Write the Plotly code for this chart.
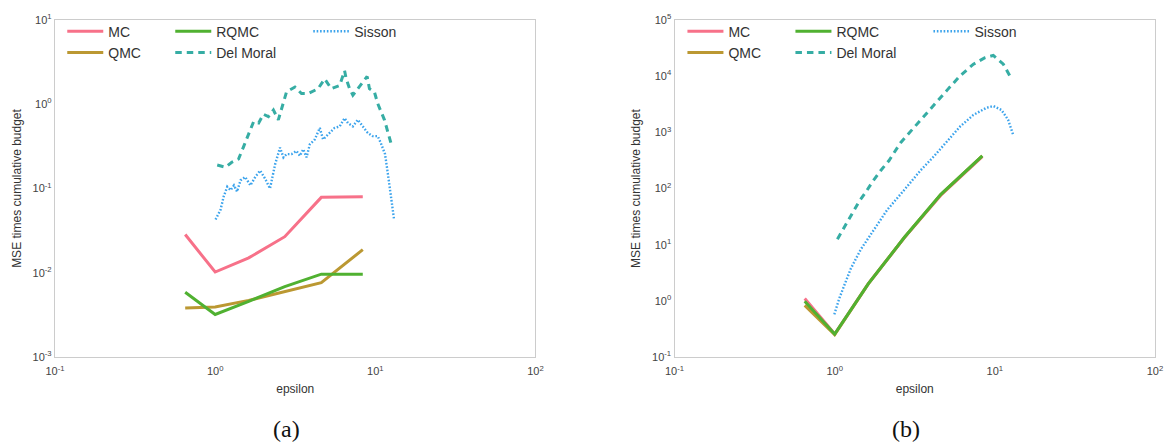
import plotly.graph_objects as go

# ---------------- data ----------------
# epsilon grid shared by the MC / QMC / RQMC estimators
EPS = [0.65, 1.0, 1.62, 2.72, 4.6, 8.35]

# panel (a)
A_MC = [0.0284, 0.0102, 0.0150, 0.0268, 0.0785, 0.0796]
A_QMC = [0.00382, 0.00393, 0.0047, 0.00598, 0.00762, 0.0188]
A_RQMC = [0.00587, 0.0032, 0.00457, 0.00684, 0.00962, 0.00962]

A_DM_EPS = [1.03, 1.16, 1.27, 1.40, 1.51, 1.62, 1.74, 1.87, 2.00, 2.15, 2.31, 2.48,
            2.79, 3.15, 3.46, 3.81, 4.39, 4.83, 5.31, 5.99, 6.43, 6.58, 6.91, 7.24,
            8.15, 8.89, 9.19, 9.87, 10.35, 11.4, 12.5]
A_DM = [0.190, 0.179, 0.205, 0.224, 0.319, 0.437, 0.625, 0.598, 0.762, 0.714, 0.855, 0.653,
        1.40, 1.60, 1.34, 1.34, 1.53, 2.00, 1.53, 1.67, 2.50, 2.00, 1.53, 1.28,
        1.75, 2.14, 1.53, 1.40, 1.02, 0.653, 0.350]

A_SIS_EPS = [1.006, 1.08, 1.13, 1.19, 1.25, 1.31, 1.37, 1.44, 1.54, 1.66, 1.78, 1.91,
             2.05, 2.20, 2.37, 2.54, 2.67, 2.79, 3.00, 3.22, 3.38, 3.55, 3.72, 3.90,
             4.19, 4.50, 4.72, 5.19, 5.57, 5.99, 6.43, 6.75, 7.24, 7.78, 8.36, 8.97,
             9.63, 10.35, 10.8, 11.5, 11.9, 12.5, 13.1]
A_SIS = [0.0428, 0.0558, 0.080, 0.105, 0.0955, 0.109, 0.0916, 0.125, 0.137, 0.109, 0.137, 0.163,
         0.131, 0.100, 0.195, 0.306, 0.234, 0.256, 0.256, 0.279, 0.244, 0.292, 0.234, 0.334,
         0.382, 0.524, 0.382, 0.457, 0.524, 0.546, 0.684, 0.598, 0.546, 0.653, 0.546, 0.457,
         0.418, 0.418, 0.350, 0.256, 0.163, 0.0875, 0.0428]

# panel (b)
B_MC = [1.10, 0.256, 2.0, 13.2, 76.0, 370.0]
B_QMC = [0.83, 0.25, 2.0, 13.4, 78.0, 380.0]
B_RQMC = [0.98, 0.256, 2.0, 13.4, 78.5, 382.0]

B_DM_EPS = [1.04, 1.18, 1.29, 1.42, 1.57, 1.72, 1.94, 2.18, 2.58, 2.98, 3.43, 4.15,
            5.02, 6.08, 7.35, 8.68, 9.78, 11.3, 12.7]
B_DM = [12.5, 22.9, 36.6, 58.5, 87.5, 131, 209, 312, 655, 1045, 1672, 3055,
        5585, 10200, 16350, 21300, 23500, 16350, 8950]

B_SIS_EPS = [0.995, 1.07, 1.15, 1.26, 1.46, 1.76, 2.13, 2.71, 3.43, 4.15, 5.02, 6.08,
             7.35, 8.89, 9.78, 11.0, 12.1, 13.0]
B_SIS = [0.573, 1.12, 1.91, 3.73, 8.35, 18.7, 41.8, 93.3, 209, 370, 698, 1276,
         2042, 2742, 2938, 2500, 1672, 914]

# axis tick exponents
X_EXP = [-1, 0, 1, 2]
A_Y_EXP = [-3, -2, -1, 0, 1]
B_Y_EXP = [-1, 0, 1, 2, 3, 4, 5]

CAPTIONS = ["(a)", "(b)"]

# ---------------- styling ----------------
COLORS = {
    "MC": "#f77189",
    "QMC": "#bb9832",
    "RQMC": "#50b131",
    "Del Moral": "#36ada4",
    "Sisson": "#3ba3ec",
}
DASH = {"MC": "solid", "QMC": "solid", "RQMC": "solid",
        "Del Moral": "6.5px,5px", "Sisson": "1.6px,1.8px"}
WIDTH = {"MC": 3, "QMC": 3, "RQMC": 3, "Del Moral": 3, "Sisson": 2.4}
GROUP = {"MC": "c1", "QMC": "c1", "RQMC": "c2", "Del Moral": "c2", "Sisson": "c3"}
LEGW = {"MC": 57, "QMC": 57, "RQMC": 87, "Del Moral": 87, "Sisson": 60}

FONT = "Liberation Sans, Arial, sans-serif"


def ticks(exps):
    return [10.0 ** e for e in exps], ["10<sup>%d</sup>" % e for e in exps]


fig = go.Figure()

panels = [
    ("x", "y", "legend", [
        ("MC", EPS, A_MC), ("QMC", EPS, A_QMC), ("RQMC", EPS, A_RQMC),
        ("Del Moral", A_DM_EPS, A_DM), ("Sisson", A_SIS_EPS, A_SIS)]),
    ("x2", "y2", "legend2", [
        ("MC", EPS, B_MC), ("QMC", EPS, B_QMC), ("RQMC", EPS, B_RQMC),
        ("Del Moral", B_DM_EPS, B_DM), ("Sisson", B_SIS_EPS, B_SIS)]),
]

for xa, ya, leg, series in panels:
    for name, xs, ys in series:
        fig.add_trace(go.Scatter(
            x=xs, y=ys, name=name, mode="lines",
            xaxis=xa, yaxis=ya, legend=leg,
            legendgroup=GROUP[name] + xa, legendwidth=LEGW[name],
            line=dict(color=COLORS[name], width=WIDTH[name], dash=DASH[name]),
        ))

xtv, xtt = ticks(X_EXP)
aytv, aytt = ticks(A_Y_EXP)
bytv, bytt = ticks(B_Y_EXP)

axis_common = dict(
    type="log", showgrid=False, zeroline=False, showline=True, mirror=True,
    linecolor="#cccccc", linewidth=1.3, ticks="",
    tickfont=dict(family=FONT, size=11, color="#444444"),
    title_font=dict(family=FONT, size=12, color="#333333"),
)
x_extra = dict(ticklabelstandoff=4)

L_DOM = [0.0, 0.4368]
R_DOM = [0.5632, 1.0]

legend_common = dict(
    orientation="h", y=1.013, xanchor="left", yanchor="top", itemwidth=36,
    bgcolor="rgba(0,0,0,0)", font=dict(family=FONT, size=14, color="#333333"),
    tracegroupgap=0,
)

fig.update_layout(
    width=1175, height=446,
    margin=dict(l=55, r=12, t=13, b=89),
    paper_bgcolor="white", plot_bgcolor="white",
    font=dict(family=FONT, color="#333333"),
    xaxis=dict(axis_common, **x_extra, domain=L_DOM, range=[-1, 2], anchor="y",
               tickvals=xtv, ticktext=xtt, title=dict(text="epsilon", standoff=8)),
    yaxis=dict(axis_common, range=[-3, 1], anchor="x",
               tickvals=aytv, ticktext=aytt,
               title=dict(text="MSE times cumulative budget", standoff=8)),
    xaxis2=dict(axis_common, **x_extra, domain=R_DOM, range=[-1, 2], anchor="y2",
                tickvals=xtv, ticktext=xtt, title=dict(text="epsilon", standoff=8)),
    yaxis2=dict(axis_common, range=[-1, 5], anchor="x2",
                tickvals=bytv, ticktext=bytt,
                title=dict(text="MSE times cumulative budget", standoff=8)),
    legend=dict(legend_common, x=0.0066),
    legend2=dict(legend_common, x=0.5704),
    showlegend=True,
)

for text, dom in zip(CAPTIONS, [L_DOM, R_DOM]):
    fig.add_annotation(
        text=text, xref="paper", yref="paper",
        x=(dom[0] + dom[1]) / 2 - 0.008, y=-0.215, xanchor="center", yanchor="middle",
        showarrow=False, font=dict(family="Liberation Serif, Times New Roman, serif",
                                   size=24, color="#111111"),
    )

fig.write_html("out.html")
